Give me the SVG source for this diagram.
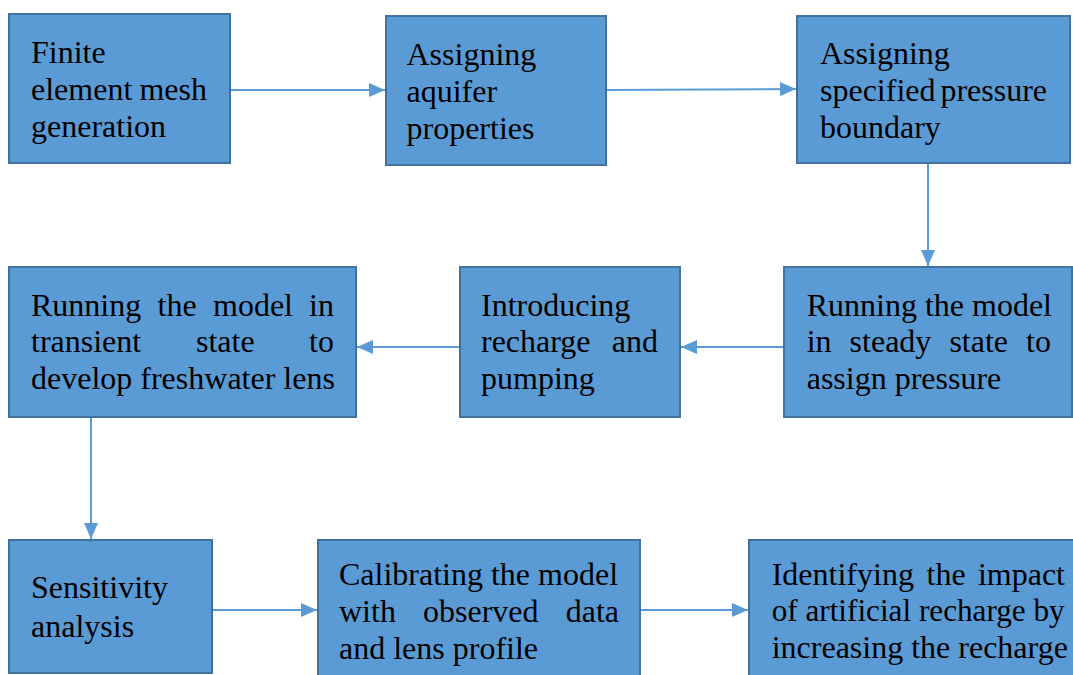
<svg xmlns="http://www.w3.org/2000/svg" width="1073" height="675" viewBox="0 0 1073 675">
<defs>
<style>
.box{fill:#5b9bd5;stroke:#41719c;stroke-width:2}
.t{font-family:"Liberation Serif","Times New Roman",serif;font-size:32px;fill:#000}
.e{text-anchor:end}
.c{fill:none;stroke:#5b9bd5;stroke-width:2}
</style>
<marker id="ah" viewBox="0 0 16 14" refX="16" refY="7" markerWidth="16" markerHeight="14" markerUnits="userSpaceOnUse" orient="auto">
<path d="M0,0 L16,7 L0,14 Z" fill="#5b9bd5"/>
</marker>
</defs>
<rect width="1073" height="675" fill="#fff"/>
<g id="connectors">
<line class="c" x1="230" y1="90" x2="385" y2="90" marker-end="url(#ah)"/>
<line class="c" x1="606" y1="90" x2="796" y2="89" marker-end="url(#ah)"/>
<line class="c" x1="928" y1="163" x2="928" y2="266" marker-end="url(#ah)"/>
<line class="c" x1="784" y1="347" x2="681" y2="347" marker-end="url(#ah)"/>
<line class="c" x1="460" y1="347" x2="357" y2="347" marker-end="url(#ah)"/>
<line class="c" x1="91" y1="417" x2="91" y2="539" marker-end="url(#ah)"/>
<line class="c" x1="212" y1="610" x2="317" y2="610" marker-end="url(#ah)"/>
<line class="c" x1="640" y1="610" x2="748" y2="610" marker-end="url(#ah)"/>
</g>
<g id="n1">
<rect class="box" x="9" y="14" width="221" height="149"/>
<text class="t" x="31" y="63">Finite</text>
<text class="t" y="99.5"><tspan x="31">element</tspan><tspan class="e" x="207">mesh</tspan></text>
<text class="t" x="31" y="137">generation</text>
</g>
<g id="n2">
<rect class="box" x="386" y="16" width="220" height="149"/>
<text class="t" x="406.5" y="65">Assigning</text>
<text class="t" x="406.5" y="102">aquifer</text>
<text class="t" x="406.5" y="139">properties</text>
</g>
<g id="n3">
<rect class="box" x="797" y="16" width="273" height="147"/>
<text class="t" x="820" y="64">Assigning</text>
<text class="t" y="101"><tspan x="820">specified</tspan><tspan class="e" x="1047">pressure</tspan></text>
<text class="t" x="820" y="138">boundary</text>
</g>
<g id="n4">
<rect class="box" x="784" y="267" width="288" height="150"/>
<text class="t" x="806.7" y="315.5">Running the model</text>
<text class="t" y="352"><tspan x="806.7">in</tspan><tspan x="849.6">steady</tspan><tspan x="949.4">state</tspan><tspan class="e" x="1051">to</tspan></text>
<text class="t" x="806.7" y="389">assign pressure</text>
</g>
<g id="n5">
<rect class="box" x="460" y="267" width="220" height="150"/>
<text class="t" x="481" y="315.5">Introducing</text>
<text class="t" y="352"><tspan x="481">recharge</tspan><tspan class="e" x="658">and</tspan></text>
<text class="t" x="481" y="389">pumping</text>
</g>
<g id="n6">
<rect class="box" x="9" y="267" width="347" height="150"/>
<text class="t" y="315.5"><tspan x="31">Running</tspan><tspan x="157.5">the</tspan><tspan x="213">model</tspan><tspan class="e" x="334">in</tspan></text>
<text class="t" y="352"><tspan x="31">transient</tspan><tspan x="196">state</tspan><tspan class="e" x="334">to</tspan></text>
<text class="t" x="31" y="389">develop freshwater lens</text>
</g>
<g id="n7">
<rect class="box" x="9" y="540" width="203" height="133"/>
<text class="t" x="31" y="598">Sensitivity</text>
<text class="t" x="31" y="636.5">analysis</text>
</g>
<g id="n8">
<rect class="box" x="318" y="540" width="322" height="140"/>
<text class="t" x="339" y="585">Calibrating the model</text>
<text class="t" y="621.5"><tspan x="339">with</tspan><tspan x="423">observed</tspan><tspan class="e" x="619">data</tspan></text>
<text class="t" x="339" y="658.5">and lens profile</text>
</g>
<g id="n9">
<rect class="box" x="749" y="540" width="330" height="140"/>
<text class="t" y="584.5"><tspan x="771.7">Identifying</tspan><tspan x="926.5">the</tspan><tspan class="e" x="1065">impact</tspan></text>
<text class="t" x="771.7" y="621" textLength="293" lengthAdjust="spacingAndGlyphs">of artificial recharge by</text>
<text class="t" x="771.7" y="657.5">increasing the recharge</text>
</g>
</svg>
